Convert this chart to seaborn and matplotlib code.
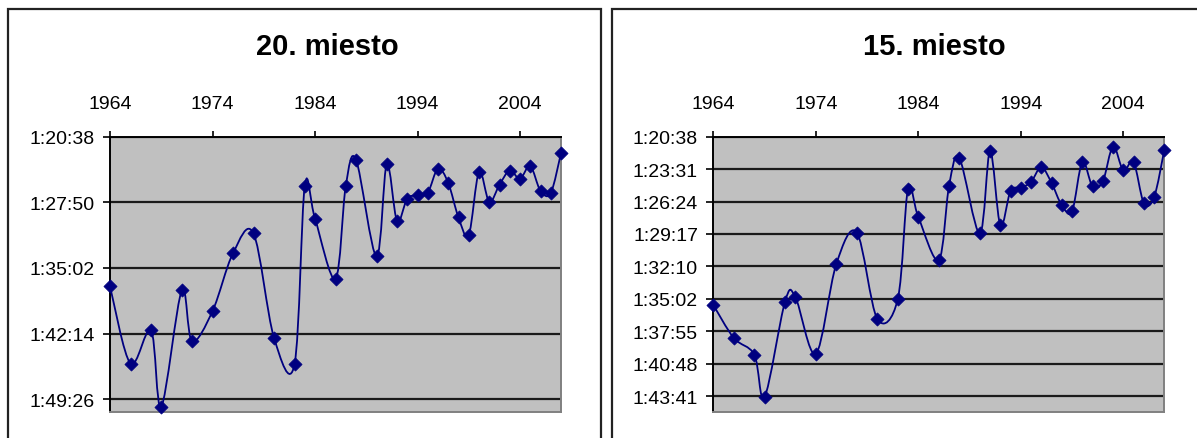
import numpy as np
import pandas as pd
import seaborn as sns
import matplotlib.pyplot as plt
from matplotlib.path import Path
from matplotlib.patches import PathPatch, Rectangle
from matplotlib.ticker import FixedLocator, FuncFormatter

# years of the races (same for both panels)
years = [1964, 1966, 1968, 1969, 1971, 1972, 1974, 1976, 1978, 1980, 1982,
         1983, 1984, 1986, 1987, 1988, 1990, 1991, 1992, 1993, 1994, 1995,
         1996, 1997, 1998, 1999, 2000, 2001, 2002, 2003, 2004, 2005, 2006,
         2007, 2008]

# time of the 20th place
place20 = ["1:37:04", "1:45:32", "1:41:52", "1:50:16", "1:37:30", "1:43:04",
           "1:39:47", "1:33:26", "1:31:15", "1:42:42", "1:45:37", "1:26:03",
           "1:29:37", "1:36:14", "1:26:03", "1:23:09", "1:33:47", "1:23:39",
           "1:29:52", "1:27:26", "1:27:04", "1:26:47", "1:24:09", "1:25:43",
           "1:29:30", "1:31:26", "1:24:31", "1:27:47", "1:25:54", "1:24:21",
           "1:25:15", "1:23:52", "1:26:35", "1:26:49", "1:22:27"]

# time of the 15th place
place15 = ["1:35:35", "1:38:31", "1:40:00", "1:43:46", "1:35:17", "1:34:52",
           "1:39:55", "1:31:57", "1:29:09", "1:36:49", "1:35:03", "1:25:15",
           "1:27:46", "1:31:36", "1:25:01", "1:22:31", "1:29:14", "1:21:55",
           "1:28:30", "1:25:28", "1:25:10", "1:24:40", "1:23:20", "1:24:45",
           "1:26:44", "1:27:16", "1:22:54", "1:25:03", "1:24:37", "1:21:31",
           "1:23:38", "1:22:54", "1:26:31", "1:26:02", "1:21:49"]

titles = ["20. miesto", "15. miesto"]
year_ticks = [1964, 1974, 1984, 1994, 2004]


def to_sec(t):
    h, m, s = t.split(":")
    return int(h) * 3600 + int(m) * 60 + int(s)


def fmt_time(v, pos=None):
    v = int(round(v))
    return f"{v // 3600}:{(v % 3600) // 60:02d}:{v % 60:02d}"


def smooth_path(x, y):
    # Excel-like smoothed line: cubic bezier through every data point
    x = np.asarray(x, float)
    y = np.asarray(y, float)
    verts = [(x[0], y[0])]
    codes = [Path.MOVETO]
    n = len(x)
    for i in range(n - 1):
        x0, y0 = (x[i - 1], y[i - 1]) if i > 0 else (x[i], y[i])
        x3, y3 = (x[i + 2], y[i + 2]) if i + 2 < n else (x[i + 1], y[i + 1])
        c1 = (x[i] + (x[i + 1] - x0) / 6, y[i] + (y[i + 1] - y0) / 6)
        c2 = (x[i + 1] - (x3 - x[i]) / 6, y[i + 1] - (y3 - y[i]) / 6)
        verts += [c1, c2, (x[i + 1], y[i + 1])]
        codes += [Path.CURVE4] * 3
    return Path(verts, codes)


sns.set_style("white")
plt.rcParams["font.family"] = ["Liberation Sans", "DejaVu Sans"]

W, H = 1197, 439
fig = plt.figure(figsize=(W / 100, H / 100), dpi=100)

# panel frames
for x0, x1 in [(8, 601), (612, 1210)]:
    fig.patches.append(Rectangle((x0 / W, -0.05), (x1 - x0) / W, 1.05 - 10 / H,
                                 transform=fig.transFigure, fill=False,
                                 edgecolor="#222222", linewidth=1.6))

day = 86400
panels = [
    (place20, 110, 0.005 * day, 0.077 * day),
    (place15, 713.3, 0.002 * day, 0.073 * day),
]
ax_bottom, ax_top = 413.3, 137.7

for (times, left_px, step, ymax), title in zip(panels, titles):
    ax = fig.add_axes([left_px / W, (H - ax_bottom) / H, 451 / W,
                       (ax_bottom - ax_top) / H])
    df = pd.DataFrame({"year": years, "sec": [to_sec(t) for t in times]})
    ax.set_facecolor("#C0C0C0")

    ymin = 0.056 * day
    ticks = np.arange(ymin, ymax - 1, step)
    for t in ticks:
        ax.axhline(t, color="#1a1a1a", linewidth=1.6, zorder=1)

    ax.add_patch(PathPatch(smooth_path(df["year"], df["sec"]), fill=False,
                           edgecolor="#000080", linewidth=1.3, zorder=3))
    sns.scatterplot(data=df, x="year", y="sec", marker="D", s=45,
                    color="#000080", edgecolor="#000080", linewidth=0.5,
                    ax=ax, zorder=4, clip_on=False, legend=False)

    ax.set_xlim(1964, 2008)
    ax.set_ylim(ymax, ymin)
    ax.set_xlabel("")
    ax.set_ylabel("")
    ax.yaxis.set_major_locator(FixedLocator(ticks))
    ax.yaxis.set_major_formatter(FuncFormatter(fmt_time))
    ax.xaxis.set_major_locator(FixedLocator(year_ticks))
    ax.xaxis.tick_top()
    ax.tick_params(axis="x", which="major", direction="out", length=4.5,
                   width=1.2, pad=13, labelsize=14, colors="black",
                   top=True, bottom=False)
    ax.tick_params(axis="y", which="major", direction="out", length=5,
                   width=1.2, pad=6, labelsize=14, colors="black", left=True)
    for side in ["left", "top"]:
        ax.spines[side].set_color("black")
        ax.spines[side].set_linewidth(1.4)
    for side in ["right", "bottom"]:
        ax.spines[side].set_color("#808080")
        ax.spines[side].set_linewidth(1.4)

    cx = (left_px + 451 / 2 - 8) / W + (0 if left_px < 600 else 0.003)
    fig.text(cx, 1 - 47 / H, title, ha="center", va="center",
             fontsize=21, fontweight="bold", color="black")

fig.savefig("out.png", dpi=100)
